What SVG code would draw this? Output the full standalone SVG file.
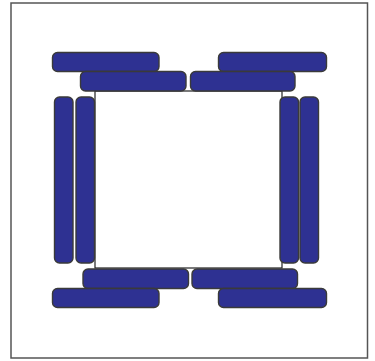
<svg xmlns="http://www.w3.org/2000/svg" width="375" height="361" viewBox="0 0 375 361">
<style>
.bar{fill:#2E3192;stroke:#3a3a3a;stroke-width:1.4}
.frame{fill:#fff;stroke:#555;stroke-width:1.5}
.sq{fill:#fff;stroke:#222;stroke-width:1.2}
</style>
<rect width="375" height="361" fill="#fff"/>
<rect class="frame" x="11" y="3" width="356.5" height="355"/>
<g id="square"><rect class="sq" x="95" y="91" width="187" height="177"/></g>
<g id="top-outer-left"><rect class="bar" x="52.5" y="52.5" width="106.5" height="19" rx="5"/></g>
<g id="top-outer-right"><rect class="bar" x="218.5" y="52.5" width="108" height="19" rx="5"/></g>
<g id="top-inner-left"><rect class="bar" x="80.5" y="71.5" width="105.5" height="19.5" rx="5"/></g>
<g id="top-inner-right"><rect class="bar" x="190.5" y="71.5" width="104.5" height="19.5" rx="5"/></g>
<g id="left-outer"><rect class="bar" x="54.5" y="97" width="18.5" height="166" rx="5"/></g>
<g id="left-inner"><rect class="bar" x="76" y="97" width="18.5" height="166" rx="5"/></g>
<g id="right-inner"><rect class="bar" x="280" y="97" width="18.5" height="166" rx="5"/></g>
<g id="right-outer"><rect class="bar" x="300" y="97" width="18.5" height="166" rx="5"/></g>
<g id="bottom-inner-left"><rect class="bar" x="83" y="269" width="105.5" height="19.5" rx="5"/></g>
<g id="bottom-inner-right"><rect class="bar" x="192" y="269" width="105.5" height="19.5" rx="5"/></g>
<g id="bottom-outer-left"><rect class="bar" x="52.5" y="288.5" width="106.5" height="19" rx="5"/></g>
<g id="bottom-outer-right"><rect class="bar" x="218.5" y="288.5" width="108" height="19" rx="5"/></g>
<g id="connectors"></g>
</svg>
